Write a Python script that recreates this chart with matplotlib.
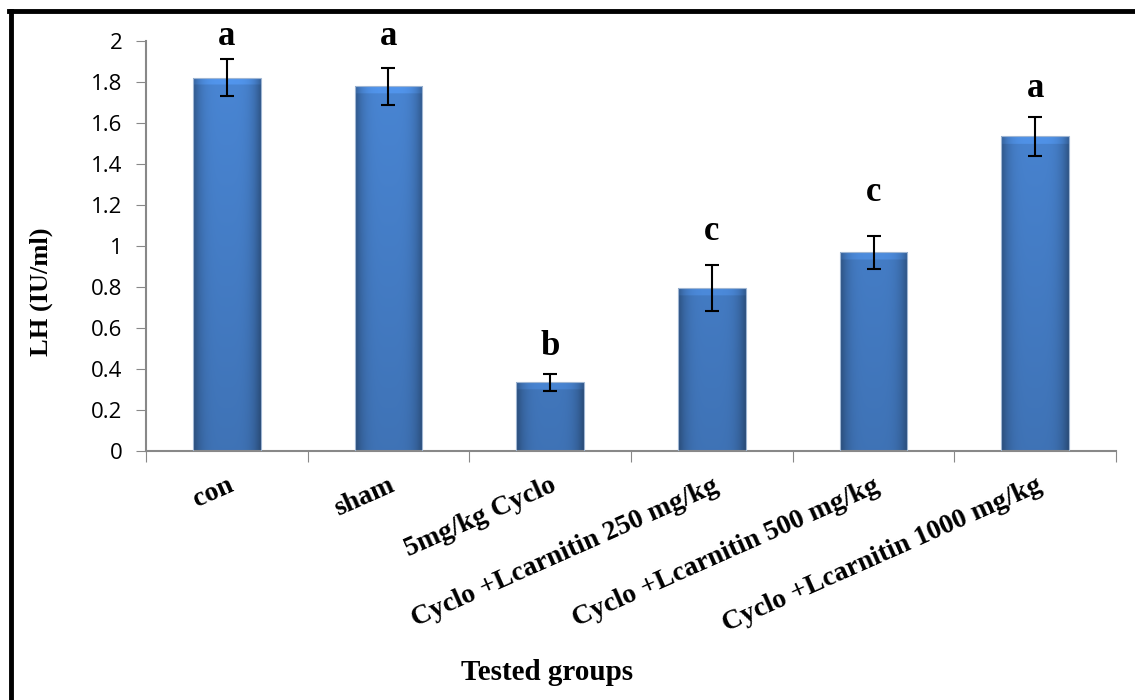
import numpy as np
import matplotlib.pyplot as plt
from matplotlib.lines import Line2D

groups = ['con', 'sham', '5mg/kg Cyclo', 'Cyclo +Lcarnitin 250 mg/kg',
          'Cyclo +Lcarnitin 500 mg/kg', 'Cyclo +Lcarnitin 1000 mg/kg']
lh = [1.82, 1.78, 0.335, 0.795, 0.97, 1.535]
err = [0.09, 0.09, 0.04, 0.11, 0.08, 0.095]
letters = ['a', 'a', 'b', 'c', 'c', 'a']
letter_y = [2.02, 2.02, 0.51, 1.07, 1.26, 1.77]

serif = ['Liberation Serif', 'DejaVu Serif']


def gradient_bar(ax, bar):
    # bevel-ish fill: darker sides and bottom, light band on top
    x0, y0 = bar.get_x(), bar.get_y()
    w, h = bar.get_width(), bar.get_height()
    ny = 400
    u = np.linspace(-1, 1, 80)
    side = 1 - 0.35 * np.abs(u) ** 4
    yy = np.linspace(h, 0, ny)[:, None]
    vert = 0.85 + 0.15 * (yy / 2.0)
    shade = side[None, :] * vert
    top = (h - yy) < 0.035
    shade = np.where(top, shade * 1.12, shade)
    base = np.array([0.29, 0.53, 0.84])
    img = np.clip(base[None, None, :] * shade[:, :, None], 0, 1)
    im = ax.imshow(img, extent=(x0, x0 + w, y0, y0 + h), aspect='auto',
                   zorder=2, interpolation='bilinear')
    im.set_clip_path(bar)


def main():
    fig = plt.figure(figsize=(11.35, 7), dpi=100)
    ax = fig.add_axes([0.1286, 0.3557, 0.8547, 0.5857])

    x = np.arange(len(groups))
    bars = ax.bar(x, lh, width=0.42, color='none', edgecolor='#9fb6d3',
                  linewidth=0.8, zorder=3)
    for b in bars:
        gradient_bar(ax, b)
    ax.errorbar(x, lh, yerr=err, fmt='none', ecolor='black', elinewidth=1.5,
                capsize=5, capthick=1.5, zorder=4)

    for xi, yi, t in zip(x, letter_y, letters):
        ax.text(xi, yi, t, ha='center', va='center', fontsize=25,
                fontweight='bold', family=serif, clip_on=False)

    ax.set_xlim(-0.5, len(groups) - 0.5)
    ax.set_ylim(0, 2)
    ax.set_yticks(np.arange(0, 2.01, 0.2))
    ax.set_yticklabels(['0', '0.2', '0.4', '0.6', '0.8', '1', '1.2', '1.4',
                        '1.6', '1.8', '2'])
    ax.set_xticks(np.arange(-0.5, len(groups), 1))
    ax.set_xticklabels([])
    ax.set_xticks(x, minor=True)
    ax.set_xticklabels(groups, minor=True, rotation=24, ha='right',
                       rotation_mode='anchor', fontsize=20,
                       fontweight='bold', family=serif)
    ax.tick_params(axis='x', which='minor', length=0, pad=16)
    ax.tick_params(axis='x', which='major', length=8, color='#888888')
    ax.tick_params(axis='y', length=7, color='#888888', labelsize=16, pad=10)
    for lab in ax.get_yticklabels():
        lab.set_family(['Open Sans', 'DejaVu Sans'])

    for s in ['top', 'right']:
        ax.spines[s].set_visible(False)
    for s in ['left', 'bottom']:
        ax.spines[s].set_color('#888888')
        ax.spines[s].set_linewidth(1.5)

    ax.set_ylabel('LH (IU/ml)', fontsize=19, fontweight='bold', family=serif)
    ax.yaxis.set_label_coords(-0.096, 0.388)
    fig.text(0.482, 0.039, 'Tested groups', ha='center', va='center',
             fontsize=21, fontweight='bold', family=serif)

    # frame lines (left and top only)
    fig.add_artist(Line2D([0.0097, 0.0097], [0, 0.984], color='black',
                          lw=3.5, transform=fig.transFigure))
    fig.add_artist(Line2D([0.0082, 1.0], [0.984, 0.984], color='black',
                          lw=3.5, transform=fig.transFigure))

    fig.savefig('out.png', dpi=100)


if __name__ == "__main__":
    main()
